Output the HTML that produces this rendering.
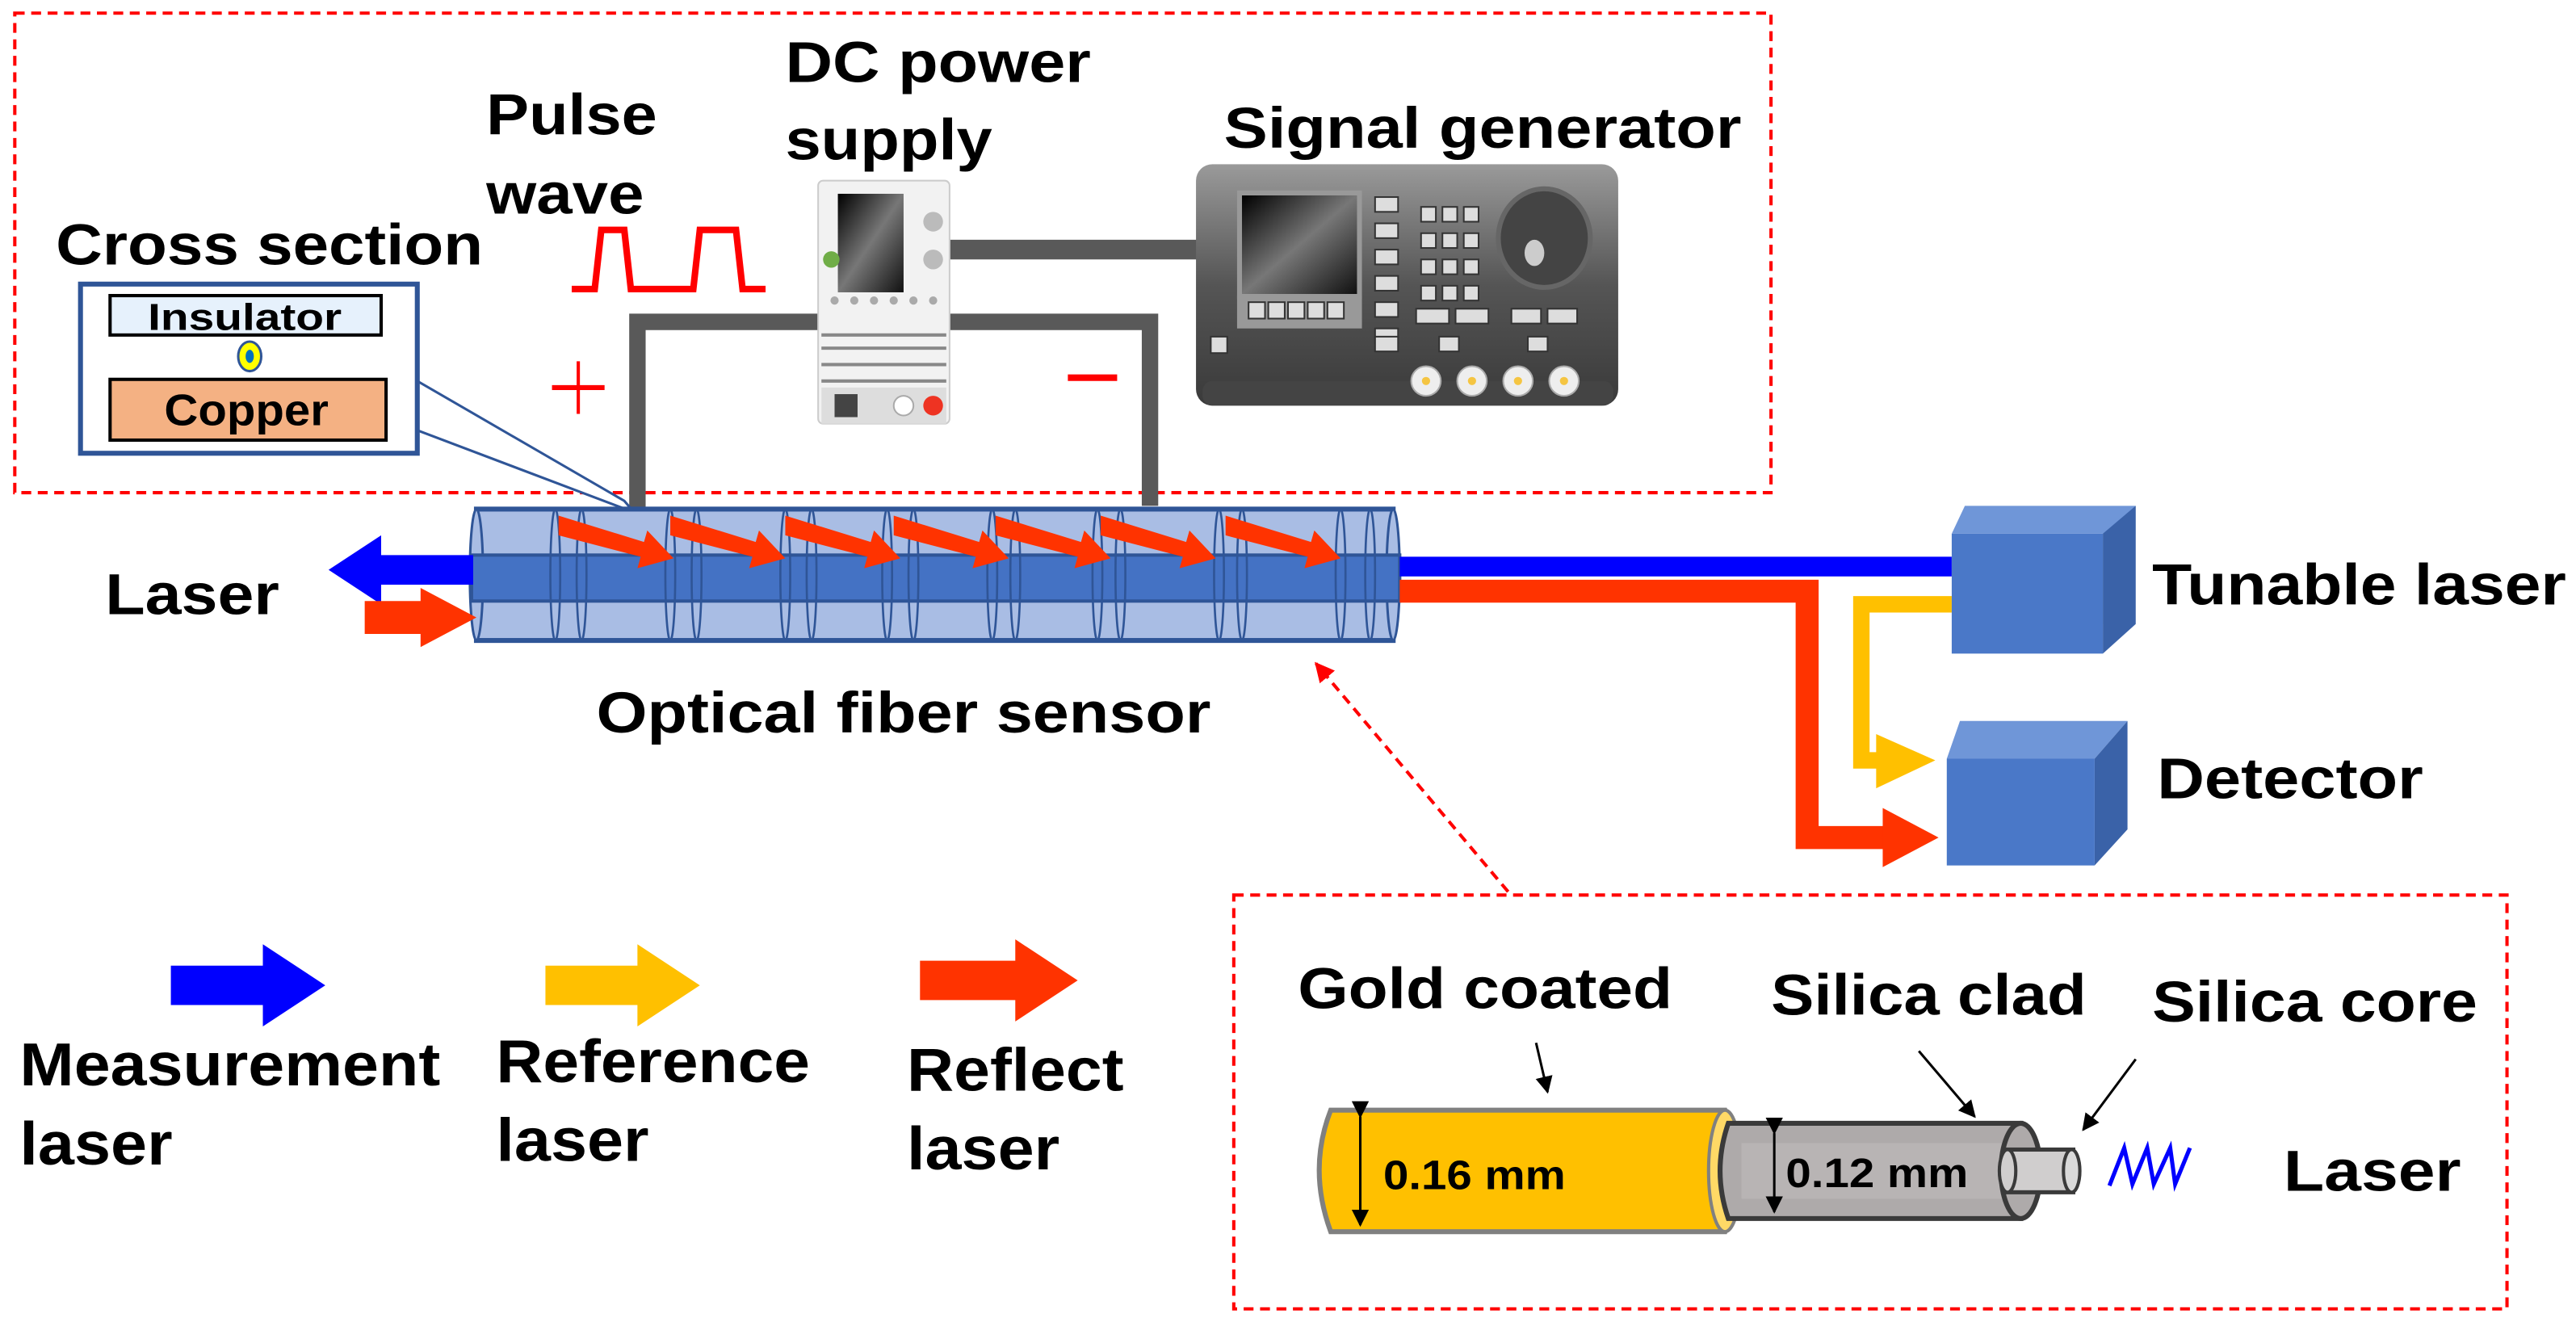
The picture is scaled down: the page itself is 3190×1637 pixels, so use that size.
<!DOCTYPE html>
<html><head><meta charset="utf-8"><style>
html,body{margin:0;padding:0;background:#fff;}
svg{display:block;}
text{font-family:"Liberation Sans",Arial,sans-serif;font-weight:bold;fill:#000;}
</style></head><body>
<svg width="3190" height="1637" viewBox="0 0 1568 805" preserveAspectRatio="none" xmlns="http://www.w3.org/2000/svg">
<defs>
<marker id="ah" viewBox="0 0 10 10" refX="9" refY="5" markerWidth="7" markerHeight="7" orient="auto"><path d="M0,0 L10,5 L0,10 z" fill="#000"/></marker>
<marker id="ahr" viewBox="0 0 10 10" refX="9" refY="5" markerWidth="6" markerHeight="8" orient="auto"><path d="M0,0 L10,5 L0,10 z" fill="#f00"/></marker>
<linearGradient id="sg" x1="0" y1="0" x2="0" y2="1"><stop offset="0" stop-color="#9a9a9a"/><stop offset="0.5" stop-color="#555"/><stop offset="1" stop-color="#3a3a3a"/></linearGradient>
<linearGradient id="scr" x1="0" y1="0" x2="1" y2="1"><stop offset="0" stop-color="#000"/><stop offset="0.5" stop-color="#777"/><stop offset="1" stop-color="#111"/></linearGradient>
</defs>

<rect x="9" y="8" width="1069" height="292" fill="none" stroke="#f00" stroke-width="2" stroke-dasharray="6,4"/>
<rect x="751" y="545" width="775" height="252" fill="none" stroke="#f00" stroke-width="2" stroke-dasharray="6,4"/>

<text x="478" y="50" font-size="35" textLength="186" lengthAdjust="spacingAndGlyphs">DC power</text>
<text x="478" y="97" font-size="35" textLength="126" lengthAdjust="spacingAndGlyphs">supply</text>
<text x="296" y="82" font-size="35" textLength="104" lengthAdjust="spacingAndGlyphs">Pulse</text>
<text x="296" y="130" font-size="35" textLength="96" lengthAdjust="spacingAndGlyphs">wave</text>
<text x="745" y="90" font-size="35" textLength="315" lengthAdjust="spacingAndGlyphs">Signal generator</text>
<text x="34" y="161" font-size="35" textLength="260" lengthAdjust="spacingAndGlyphs">Cross section</text>

<polyline points="348,176 362,176 366,140 380,140 384,176 422,176 426,140 448,140 452,176 466,176" fill="none" stroke="#f00" stroke-width="4"/>

<polyline points="388,310 388,196 500,196" fill="none" stroke="#595959" stroke-width="10"/>
<polyline points="576,196 700,196 700,308" fill="none" stroke="#595959" stroke-width="10"/>
<line x1="576" y1="152" x2="730" y2="152" stroke="#595959" stroke-width="12"/>

<line x1="336" y1="236" x2="368" y2="236" stroke="#f00" stroke-width="3"/>
<line x1="352" y1="220" x2="352" y2="252" stroke="#f00" stroke-width="2"/>
<line x1="650" y1="230" x2="680" y2="230" stroke="#f00" stroke-width="4"/>

<rect x="498" y="110" width="80" height="148" rx="3" fill="#f2f2f2" stroke="#ccc"/>
<rect x="510" y="118" width="40" height="60" fill="url(#scr)"/>
<circle cx="568" cy="135" r="6" fill="#bbb"/><circle cx="568" cy="158" r="6" fill="#bbb"/>
<circle cx="506" cy="158" r="5" fill="#70ad47"/>
<g fill="#aaa"><circle cx="508" cy="183" r="2.5"/><circle cx="520" cy="183" r="2.5"/><circle cx="532" cy="183" r="2.5"/><circle cx="544" cy="183" r="2.5"/><circle cx="556" cy="183" r="2.5"/><circle cx="568" cy="183" r="2.5"/></g>
<g stroke="#888" stroke-width="2"><line x1="500" y1="204" x2="576" y2="204"/><line x1="500" y1="212" x2="576" y2="212"/><line x1="500" y1="222" x2="576" y2="222"/><line x1="500" y1="232" x2="576" y2="232"/></g>
<rect x="500" y="236" width="76" height="22" fill="#ddd"/>
<rect x="508" y="240" width="14" height="14" fill="#444"/>
<circle cx="550" cy="247" r="6" fill="#fff" stroke="#aaa"/><circle cx="568" cy="247" r="6" fill="#e32"/>

<rect x="728" y="100" width="257" height="147" rx="10" fill="url(#sg)"/>
<rect x="732" y="232" width="250" height="15" rx="6" fill="#444"/>
<rect x="753" y="116" width="76" height="66" fill="#999"/>
<rect x="756" y="119" width="70" height="60" fill="url(#scr)"/>
<rect x="753" y="180" width="76" height="20" fill="#999"/>
<g fill="#ddd" stroke="#333" stroke-width="1">
<rect x="760" y="184" width="10" height="10"/><rect x="772" y="184" width="10" height="10"/><rect x="784" y="184" width="10" height="10"/><rect x="796" y="184" width="10" height="10"/><rect x="808" y="184" width="10" height="10"/>
<rect x="837" y="120" width="14" height="9"/><rect x="837" y="136" width="14" height="9"/><rect x="837" y="152" width="14" height="9"/><rect x="837" y="168" width="14" height="9"/><rect x="837" y="184" width="14" height="9"/><rect x="837" y="200" width="14" height="9"/>
<rect x="865" y="126" width="9" height="9"/><rect x="878" y="126" width="9" height="9"/><rect x="891" y="126" width="9" height="9"/>
<rect x="865" y="142" width="9" height="9"/><rect x="878" y="142" width="9" height="9"/><rect x="891" y="142" width="9" height="9"/>
<rect x="865" y="158" width="9" height="9"/><rect x="878" y="158" width="9" height="9"/><rect x="891" y="158" width="9" height="9"/>
<rect x="865" y="174" width="9" height="9"/><rect x="878" y="174" width="9" height="9"/><rect x="891" y="174" width="9" height="9"/>
<rect x="862" y="188" width="20" height="9"/><rect x="886" y="188" width="20" height="9"/><rect x="920" y="188" width="18" height="9"/><rect x="942" y="188" width="18" height="9"/>
<rect x="737" y="205" width="10" height="10"/><rect x="837" y="205" width="14" height="9"/><rect x="876" y="205" width="12" height="9"/><rect x="930" y="205" width="12" height="9"/>
</g>
<ellipse cx="940" cy="145" rx="28" ry="30" fill="#444" stroke="#666" stroke-width="3"/>
<ellipse cx="934" cy="154" rx="6" ry="8" fill="#ccc"/>
<g fill="#eee" stroke="#aaa"><circle cx="868" cy="232" r="9"/><circle cx="896" cy="232" r="9"/><circle cx="924" cy="232" r="9"/><circle cx="952" cy="232" r="9"/></g>
<g fill="#f5c542"><circle cx="868" cy="232" r="2.5"/><circle cx="896" cy="232" r="2.5"/><circle cx="924" cy="232" r="2.5"/><circle cx="952" cy="232" r="2.5"/></g>

<polyline points="254,232 380,305 386,312 254,262" fill="#fff" stroke="#2f5597" stroke-width="1.5"/>
<rect x="49" y="173" width="205" height="103" fill="#fff" stroke="#2f5597" stroke-width="3"/>
<rect x="67" y="180" width="165" height="24" fill="#e6f1fc" stroke="#000" stroke-width="2"/>
<text x="90" y="201" font-size="23" textLength="118" lengthAdjust="spacingAndGlyphs">Insulator</text>
<ellipse cx="152" cy="217" rx="7" ry="9" fill="#ff0" stroke="#2f5597" stroke-width="1.5"/>
<ellipse cx="152" cy="217" rx="2.5" ry="4" fill="#0070c0"/>
<rect x="67" y="231" width="168" height="37" fill="#f4b183" stroke="#000" stroke-width="2"/>
<text x="100" y="259" font-size="27" textLength="100" lengthAdjust="spacingAndGlyphs">Copper</text>

<rect x="290" y="310" width="558" height="80" fill="#a9bde4" stroke="#2f5597" stroke-width="3"/>
<ellipse cx="290" cy="350" rx="4" ry="40" fill="#a9bde4" stroke="#2f5597" stroke-width="1.5"/>
<ellipse cx="848" cy="350" rx="4" ry="40" fill="#a9bde4" stroke="#2f5597" stroke-width="1.5"/>
<rect x="287" y="338" width="565" height="28" fill="#4472c4" stroke="#2f5597" stroke-width="2"/>
<g fill="none" stroke="#2f5597" stroke-width="1.3">
<ellipse cx="338" cy="350" rx="3" ry="40"/><ellipse cx="354" cy="350" rx="3" ry="40"/>
<ellipse cx="408" cy="350" rx="3" ry="40"/><ellipse cx="424" cy="350" rx="3" ry="40"/>
<ellipse cx="478" cy="350" rx="3" ry="40"/><ellipse cx="494" cy="350" rx="3" ry="40"/>
<ellipse cx="540" cy="350" rx="3" ry="40"/><ellipse cx="556" cy="350" rx="3" ry="40"/>
<ellipse cx="604" cy="350" rx="3" ry="40"/><ellipse cx="618" cy="350" rx="3" ry="40"/>
<ellipse cx="668" cy="350" rx="3" ry="40"/><ellipse cx="682" cy="350" rx="3" ry="40"/>
<ellipse cx="742" cy="350" rx="3" ry="40"/><ellipse cx="756" cy="350" rx="3" ry="40"/>
<ellipse cx="816" cy="350" rx="3" ry="40"/><ellipse cx="834" cy="350" rx="3" ry="40"/>
</g>
<g fill="#ff3300">
<polygon points="340,314 392,330 394,323 410,340 388,346 390,339 340,326"/>
<polygon points="408,314 460,330 462,323 478,340 456,346 458,339 408,326"/>
<polygon points="478,314 530,330 532,323 548,340 526,346 528,339 478,326"/>
<polygon points="544,314 596,330 598,323 614,340 592,346 594,339 544,326"/>
<polygon points="606,314 658,330 660,323 676,340 654,346 656,339 606,326"/>
<polygon points="670,314 722,330 724,323 740,340 718,346 720,339 670,326"/>
<polygon points="746,314 798,330 800,323 816,340 794,346 796,339 746,326"/>
</g>

<rect x="852" y="339" width="336" height="12" fill="#0000ff"/>
<polygon points="288,338 232,338 232,326 200,347 232,368 232,356 288,356" fill="#0000ff"/>
<polygon points="222,366 256,366 256,358 290,376 256,394 256,386 222,386" fill="#ff3300"/>

<polyline points="852,360 1100,360 1100,510 1150,510" fill="none" stroke="#ff3300" stroke-width="14"/>
<polygon points="1146,492 1180,510 1146,528" fill="#ff3300"/>
<polyline points="1188,368 1133,368 1133,463 1150,463" fill="none" stroke="#ffc000" stroke-width="10"/>
<polygon points="1142,447 1178,463 1142,480" fill="#ffc000"/>

<polygon points="1188,325 1196,308 1300,308 1292,325" fill="#6f96d8"/>
<polygon points="1280,325 1300,308 1300,380 1280,398" fill="#3a62a8"/>
<rect x="1188" y="325" width="92" height="73" fill="#4a78c8"/>
<text x="1310" y="368" font-size="35" textLength="252" lengthAdjust="spacingAndGlyphs">Tunable laser</text>
<polygon points="1185,462 1193,439 1295,439 1275,462" fill="#6f96d8"/>
<polygon points="1275,462 1295,439 1295,505 1275,527" fill="#3a62a8"/>
<rect x="1185" y="462" width="90" height="65" fill="#4a78c8"/>
<text x="1313" y="486" font-size="35" textLength="162" lengthAdjust="spacingAndGlyphs">Detector</text>

<text x="64" y="374" font-size="35" textLength="106" lengthAdjust="spacingAndGlyphs">Laser</text>
<text x="363" y="446" font-size="35" textLength="374" lengthAdjust="spacingAndGlyphs">Optical fiber sensor</text>

<line x1="918" y1="543" x2="801" y2="404" stroke="#f00" stroke-width="2" stroke-dasharray="6,4" marker-end="url(#ahr)"/>

<polygon points="104,588 160,588 160,575 198,600 160,625 160,612 104,612" fill="#0000ff"/>
<polygon points="332,588 388,588 388,575 426,600 388,625 388,612 332,612" fill="#ffc000"/>
<polygon points="560,585 618,585 618,572 656,597 618,622 618,609 560,609" fill="#ff3300"/>
<text x="12" y="661" font-size="37" textLength="256" lengthAdjust="spacingAndGlyphs">Measurement</text>
<text x="12" y="709" font-size="37" textLength="93" lengthAdjust="spacingAndGlyphs">laser</text>
<text x="302" y="659" font-size="37" textLength="191" lengthAdjust="spacingAndGlyphs">Reference</text>
<text x="302" y="707" font-size="37" textLength="93" lengthAdjust="spacingAndGlyphs">laser</text>
<text x="552" y="664" font-size="37" textLength="132" lengthAdjust="spacingAndGlyphs">Reflect</text>
<text x="552" y="712" font-size="37" textLength="93" lengthAdjust="spacingAndGlyphs">laser</text>

<text x="790" y="614" font-size="35" textLength="228" lengthAdjust="spacingAndGlyphs">Gold coated</text>
<text x="1078" y="618" font-size="35" textLength="192" lengthAdjust="spacingAndGlyphs">Silica clad</text>
<text x="1310" y="622" font-size="35" textLength="198" lengthAdjust="spacingAndGlyphs">Silica core</text>
<line x1="935" y1="635" x2="942" y2="665" stroke="#000" stroke-width="1.5" marker-end="url(#ah)"/>
<line x1="1168" y1="640" x2="1202" y2="680" stroke="#000" stroke-width="1.5" marker-end="url(#ah)"/>
<line x1="1300" y1="645" x2="1268" y2="688" stroke="#000" stroke-width="1.5" marker-end="url(#ah)"/>

<path d="M810,676 L1050,676 Q1062,712 1050,750 L810,750 Q796,712 810,676 Z" fill="#ffc000" stroke="#808080" stroke-width="3"/>
<ellipse cx="1050" cy="713" rx="10" ry="37" fill="#ffd966" stroke="#808080" stroke-width="2"/>
<path d="M1052,684 L1230,684 L1230,742 L1052,742 Q1042,713 1052,684 Z" fill="#aeaaaa" stroke="#3a3a3a" stroke-width="3"/>
<rect x="1060" y="696" width="160" height="34" fill="#b8b4b4"/>
<ellipse cx="1230" cy="713" rx="12" ry="29" fill="#aeaaaa" stroke="#3a3a3a" stroke-width="3"/>
<rect x="1222" y="700" width="40" height="26" fill="#d0cece" stroke="#3a3a3a" stroke-width="2.5"/>
<ellipse cx="1222" cy="713" rx="5" ry="13" fill="#d0cece" stroke="#3a3a3a" stroke-width="2"/>
<ellipse cx="1261" cy="713" rx="5" ry="13" fill="#d9d9d9" stroke="#3a3a3a" stroke-width="2"/>
<line x1="828" y1="680" x2="828" y2="746" stroke="#000" stroke-width="1.5" marker-end="url(#ah)" marker-start="url(#ah)"/>
<line x1="1080" y1="690" x2="1080" y2="738" stroke="#000" stroke-width="1.5" marker-end="url(#ah)" marker-start="url(#ah)"/>
<text x="842" y="724" font-size="25" textLength="111" lengthAdjust="spacingAndGlyphs">0.16 mm</text>
<text x="1087" y="723" font-size="25" textLength="111" lengthAdjust="spacingAndGlyphs">0.12 mm</text>
<polyline points="1284,722 1293,699 1298,721 1307,699 1311,721 1321,699 1324,721 1333,699" fill="none" stroke="#0000ff" stroke-width="2.5"/>
<text x="1390" y="725" font-size="35" textLength="108" lengthAdjust="spacingAndGlyphs">Laser</text>
</svg>
</body></html>
